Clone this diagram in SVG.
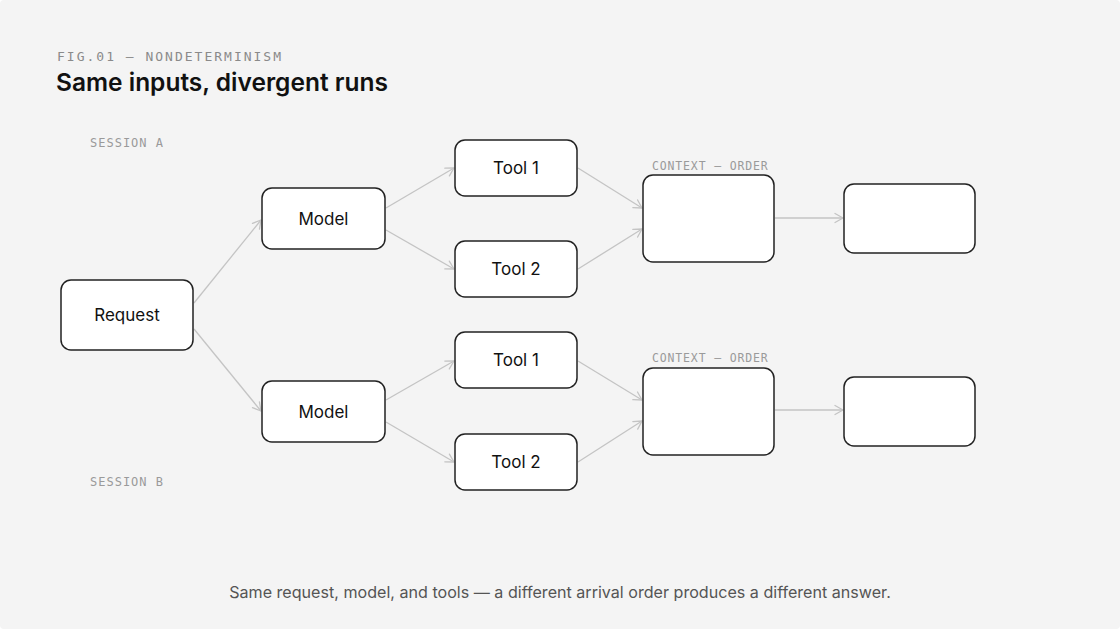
<svg xmlns="http://www.w3.org/2000/svg" width="1120" height="629" viewBox="0 0 1120 629">
<defs>
<marker id="arr" markerUnits="userSpaceOnUse" markerWidth="14" markerHeight="14" viewBox="-10 -7 12 14" refX="0" refY="0" orient="auto">
<path d="M-8,-4.5 L0,0 L-8,4.5" fill="none" stroke="#c4c4c4" stroke-width="1.3" stroke-linecap="round" stroke-linejoin="round"/>
</marker>
<style>
.bg{fill:#f4f4f4}
.node{fill:#ffffff;stroke:#222222;stroke-width:1.5}
.lbl{font-family:Inter,"Liberation Sans",sans-serif;font-size:17px;fill:#111111;text-anchor:middle}
.mono{font-family:"DejaVu Sans Mono","Liberation Mono",monospace;font-size:12px;fill:#9a9a9a;letter-spacing:1px}
.ctx{font-size:11.5px;letter-spacing:0.85px}
.edge{fill:none;stroke:#c4c4c4;stroke-width:1.3;marker-end:url(#arr)}
</style>
</defs>
<rect class="bg" x="0" y="0" width="1120" height="629" rx="4"/>
<text x="57" y="61" style="font-family:'DejaVu Sans Mono','Liberation Mono',monospace;font-size:13px;fill:#8a8a8a;letter-spacing:2px">FIG.01 — NONDETERMINISM</text>
<text x="56" y="91" style="font-family:Inter,'Liberation Sans',sans-serif;font-size:24.5px;font-weight:600;fill:#111111">Same inputs, divergent runs</text>
<text class="mono" x="90" y="147">SESSION A</text>
<text class="mono" x="90" y="486">SESSION B</text>
<text class="mono ctx" x="652" y="170">CONTEXT — ORDER</text>
<text class="mono ctx" x="652" y="362">CONTEXT — ORDER</text>
<g id="connectors">
<path class="edge" d="M194,303 L261,220"/>
<path class="edge" d="M194,329 L261,411"/>
<path class="edge" d="M386,208 L454,168"/>
<path class="edge" d="M386,230 L454,269"/>
<path class="edge" d="M578,168 L642,208"/>
<path class="edge" d="M578,269 L642,229"/>
<path class="edge" d="M775,218 L843,218"/>
<path class="edge" d="M386,400 L454,361"/>
<path class="edge" d="M386,422 L454,462"/>
<path class="edge" d="M578,361 L642,400"/>
<path class="edge" d="M578,462 L642,421"/>
<path class="edge" d="M775,410 L843,410"/>
</g>
<g id="request"><rect class="node" x="61" y="280" width="132" height="70" rx="10"/><text class="lbl" x="127" y="321">Request</text></g>
<g id="modelA"><rect class="node" x="262" y="188" width="123" height="61" rx="10"/><text class="lbl" x="323.5" y="224.5">Model</text></g>
<g id="tool1A"><rect class="node" x="455" y="140" width="122" height="56" rx="10"/><text class="lbl" x="516" y="174">Tool 1</text></g>
<g id="tool2A"><rect class="node" x="455" y="241" width="122" height="56" rx="10"/><text class="lbl" x="516" y="275">Tool 2</text></g>
<g id="contextA"><rect class="node" x="643" y="175" width="131" height="87" rx="10"/></g>
<g id="outputA"><rect class="node" x="844" y="184" width="131" height="69" rx="10"/></g>
<g id="modelB"><rect class="node" x="262" y="381" width="123" height="61" rx="10"/><text class="lbl" x="323.5" y="417.5">Model</text></g>
<g id="tool1B"><rect class="node" x="455" y="332" width="122" height="56" rx="10"/><text class="lbl" x="516" y="366">Tool 1</text></g>
<g id="tool2B"><rect class="node" x="455" y="434" width="122" height="56" rx="10"/><text class="lbl" x="516" y="468">Tool 2</text></g>
<g id="contextB"><rect class="node" x="643" y="368" width="131" height="87" rx="10"/></g>
<g id="outputB"><rect class="node" x="844" y="377" width="131" height="69" rx="10"/></g>
<text x="560" y="598" text-anchor="middle" style="font-family:Inter,'Liberation Sans',sans-serif;font-size:16.1px;fill:#555555">Same request, model, and tools — a different arrival order produces a different answer.</text>
</svg>
